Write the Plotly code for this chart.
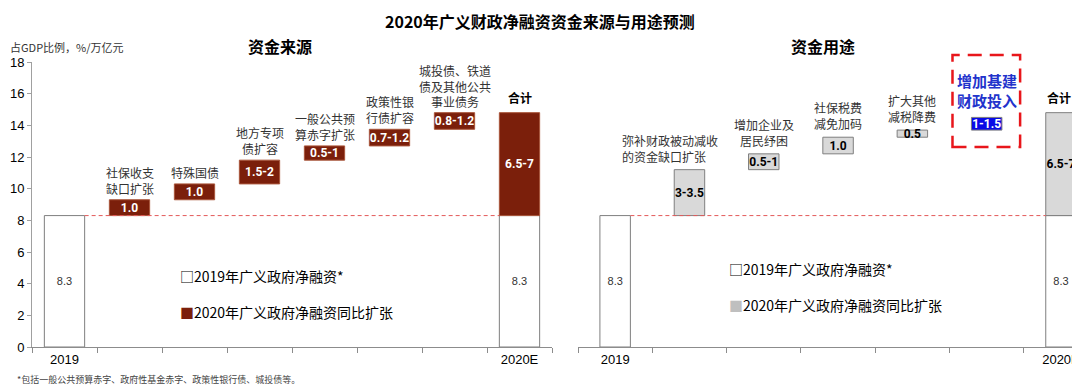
import plotly.graph_objects as go

# ---------------- data ----------------
years = ["2019", "2020E"]
base_2019 = 8.3

src_items = ["社保收支<br>缺口扩张", "特殊国债", "地方专项<br>债扩容", "一般公共预<br>算赤字扩张",
             "政策性银<br>行债扩容", "城投债、铁道<br>债及其他公共<br>事业债务"]
src_values = [1.0, 1.0, 1.5, 0.9, 1.05, 1.05]
src_labels = ["1.0", "1.0", "1.5-2", "0.5-1", "0.7-1.2", "0.8-1.2"]
src_total = 6.5
src_total_label = "6.5-7"

use_items = ["弥补财政被动减收<br>的资金缺口扩张", "增加企业及<br>居民纾困", "社保税费<br>减免加码",
             "扩大其他<br>减税降费", "增加基建<br>财政投入"]
use_values = [2.9, 1.0, 1.05, 0.45, 0.8]
use_labels = ["3-3.5", "0.5-1", "1.0", "0.5", "1-1.5"]
use_total = 6.5
use_total_label = "6.5-7"

total_label_text = "合计"
y_ticks = [0, 2, 4, 6, 8, 10, 12, 14, 16, 18]

# ---------------- styles ----------------
CJK = "Noto Sans CJK SC"
NUM = "Liberation Sans, Noto Sans CJK SC"
LBL = "Roboto, Liberation Sans"
DARK_RED = "#7B1F0B"
DARK_RED_LINE = "#A9553A"
GRAY_FILL = "#D9D9D9"
GRAY_LINE = "#7F7F7F"
BLUE = "#0A0AE6"
TXT = "#333333"
DASH_RED = "#E35A5A"

# page body has an 8px margin: figure is sized/offset so it fills the 1080x386 window
OFF = 8
W, H = 1080 - OFF, 386 - OFF
def px_x(p):
    return (p - OFF) / W
def px_y(p):
    return (H - (p - OFF)) / H

fig = go.Figure()

def cumulative(start, vals):
    bases, tops = [], []
    c = start
    for v in vals:
        bases.append(c)
        c += v
        tops.append(c)
    return bases, tops

bar_common = dict(textposition="inside", insidetextanchor="middle", textangle=0,
                  constraintext="none", cliponaxis=False, showlegend=False, hoverinfo="skip")

# ---------------- left panel ----------------
left_cats = [years[0]] + src_items + [years[1]]
lw = 0.62
fig.add_trace(go.Bar(
    x=[years[0], years[1]], y=[base_2019, base_2019], base=[0, 0], width=lw,
    marker=dict(color="white", line=dict(color=GRAY_LINE, width=1)),
    text=[f"{base_2019:.1f}"] * 2, textfont=dict(family=NUM, size=11, color=TXT),
    xaxis="x", yaxis="y", **bar_common))
sb, st = cumulative(base_2019, src_values)
fig.add_trace(go.Bar(
    x=src_items + [years[1]], y=src_values + [src_total], base=sb + [base_2019], width=lw,
    marker=dict(color=DARK_RED, line=dict(color=DARK_RED_LINE, width=1)),
    text=src_labels + [src_total_label],
    textfont=dict(family=LBL, size=12, color="white", weight="bold"),
    xaxis="x", yaxis="y", **bar_common))

# ---------------- right panel ----------------
right_cats = [years[0]] + use_items + [years[1]]
rw = 0.41
fig.add_trace(go.Bar(
    x=[years[0], years[1]], y=[base_2019, base_2019], base=[0, 0], width=rw,
    marker=dict(color="white", line=dict(color=GRAY_LINE, width=1)),
    text=[f"{base_2019:.1f}"] * 2, textfont=dict(family=NUM, size=11, color=TXT),
    xaxis="x2", yaxis="y2", **bar_common))
ub, ut = cumulative(base_2019, use_values)
use_colors = [GRAY_FILL] * (len(use_items) - 1) + [BLUE] + [GRAY_FILL]
use_text_colors = ["black"] * (len(use_items) - 1) + ["white"] + ["black"]
fig.add_trace(go.Bar(
    x=use_items + [years[1]], y=use_values + [use_total], base=ub + [base_2019], width=rw,
    marker=dict(color=use_colors, line=dict(color=GRAY_LINE, width=1)),
    text=use_labels + [use_total_label],
    textfont=dict(family=LBL, size=12, color=use_text_colors, weight="bold"),
    xaxis="x2", yaxis="y2", **bar_common))

# ---------------- annotations ----------------
ann = []
for item, top in zip(src_items, st):
    ann.append(dict(x=item, y=top, xref="x", yref="y", text=item, showarrow=False,
                    yanchor="bottom", yshift=1, font=dict(family=CJK, size=12, color=TXT)))
ann.append(dict(x=years[1], y=base_2019 + src_total, xref="x", yref="y", text=total_label_text,
                showarrow=False, yanchor="bottom", yshift=5,
                font=dict(family=CJK, size=12, color="black", weight="bold")))
for i, (item, top) in enumerate(zip(use_items, ut)):
    if i == 0:
        ann.append(dict(x=item, y=top, xref="x2", yref="y2", text=item, showarrow=False, align="left",
                        yanchor="bottom", yshift=3, xshift=-19, font=dict(family=CJK, size=12, color=TXT)))
    elif i == len(use_items) - 1:
        ann.append(dict(x=item, y=top, xref="x2", yref="y2", text=item, showarrow=False,
                        yanchor="bottom", yshift=4,
                        font=dict(family=CJK, size=15, color="#2233CC", weight="bold")))
    else:
        ann.append(dict(x=item, y=top, xref="x2", yref="y2", text=item, showarrow=False,
                        yanchor="bottom", yshift=3, font=dict(family=CJK, size=12, color=TXT)))
ann.append(dict(x=years[1], y=base_2019 + use_total, xref="x2", yref="y2", text=total_label_text,
                showarrow=False, yanchor="bottom", yshift=5, xshift=-2,
                font=dict(family=CJK, size=12, color="black", weight="bold")))

# titles and notes
def paper_text(x, y, text, size, color="black", bold=False, xanchor="center"):
    f = dict(family=CJK, size=size, color=color)
    if bold:
        f["weight"] = "bold"
    return dict(x=px_x(x), y=px_y(y), xref="paper", yref="paper", text=text, showarrow=False,
                xanchor=xanchor, yanchor="middle", font=f)

ann += [
    paper_text(540, 21, "2020年广义财政净融资资金来源与用途预测", 16, bold=True),
    paper_text(280, 46, "资金来源", 16, bold=True),
    paper_text(823, 46, "资金用途", 16, bold=True),
    paper_text(8, 47, "占GDP比例，%/万亿元", 11, color=TXT, xanchor="left"),
    paper_text(178, 276, "□2019年广义政府净融资*", 14, xanchor="left"),
    paper_text(178, 312, f"<span style='color:{DARK_RED}'>■</span>2020年广义政府净融资同比扩张", 14,
               xanchor="left"),
    paper_text(727, 269, "□2019年广义政府净融资*", 14, xanchor="left"),
    paper_text(727, 305, "<span style='color:#BFBFBF'>■</span>2020年广义政府净融资同比扩张", 14,
               xanchor="left"),
    paper_text(15, 379, "*包括一般公共预算赤字、政府性基金赤字、政策性银行债、城投债等。", 9,
               color="#444", xanchor="left"),
]

# ---------------- shapes ----------------
shapes = [
    dict(type="line", xref="x", yref="y", x0=lw / 2, x1=len(left_cats) - 1 - lw / 2,
         y0=base_2019, y1=base_2019, line=dict(color=DASH_RED, width=1, dash="4px,3px")),
    dict(type="line", xref="x2", yref="y2", x0=rw / 2, x1=len(right_cats) - 1 - rw / 2,
         y0=base_2019, y1=base_2019, line=dict(color=DASH_RED, width=1, dash="4px,3px")),
    dict(type="rect", xref="x2", yref="paper", x0=len(use_items) - 0.46, x1=len(use_items) + 0.45,
         y0=px_y(147), y1=px_y(55), line=dict(color="#E8161B", width=2.5, dash="14px,8px")),
]

axis_common = dict(showgrid=False, zeroline=False, showline=True, linecolor="#8C8C8C", linewidth=1,
                   ticks="outside", ticklen=5, tickcolor="#8C8C8C", tickson="boundaries",
                   automargin=False,
                   tickfont=dict(family=NUM, size=13, color="black"), fixedrange=True)

fig.update_layout(
    template="none",
    width=W, height=H, margin=dict(l=0, r=0, t=0, b=0, pad=0, autoexpand=False),
    paper_bgcolor="white", plot_bgcolor="white", barmode="overlay", showlegend=False,
    xaxis=dict(domain=[px_x(32), px_x(552)], type="category", categoryorder="array",
               categoryarray=left_cats, tickvals=left_cats,
               ticktext=[years[0]] + [""] * len(src_items) + [years[1]],
               range=[-0.5, len(left_cats) - 0.5], anchor="y", **axis_common),
    yaxis=dict(domain=[px_y(347), px_y(62)], range=[0, 18], tickvals=y_ticks, anchor="x",
               showgrid=False, zeroline=False, showline=True, linecolor="#A0A0A0", ticks="outside",
               ticklen=4, tickcolor="#A0A0A0", automargin=False,
               tickfont=dict(family=NUM, size=13, color="black"), fixedrange=True),
    xaxis2=dict(domain=[px_x(578), 1.0], type="category", categoryorder="array",
                categoryarray=right_cats, tickvals=right_cats,
                ticktext=[years[0]] + [""] * len(use_items) + [years[1]],
                range=[-0.5, 6.256], anchor="y2", **axis_common),
    yaxis2=dict(domain=[px_y(347), px_y(62)], range=[0, 18], anchor="x2", visible=False,
                automargin=False, fixedrange=True),
    annotations=ann, shapes=shapes,
)

fig.write_html("out.html")
